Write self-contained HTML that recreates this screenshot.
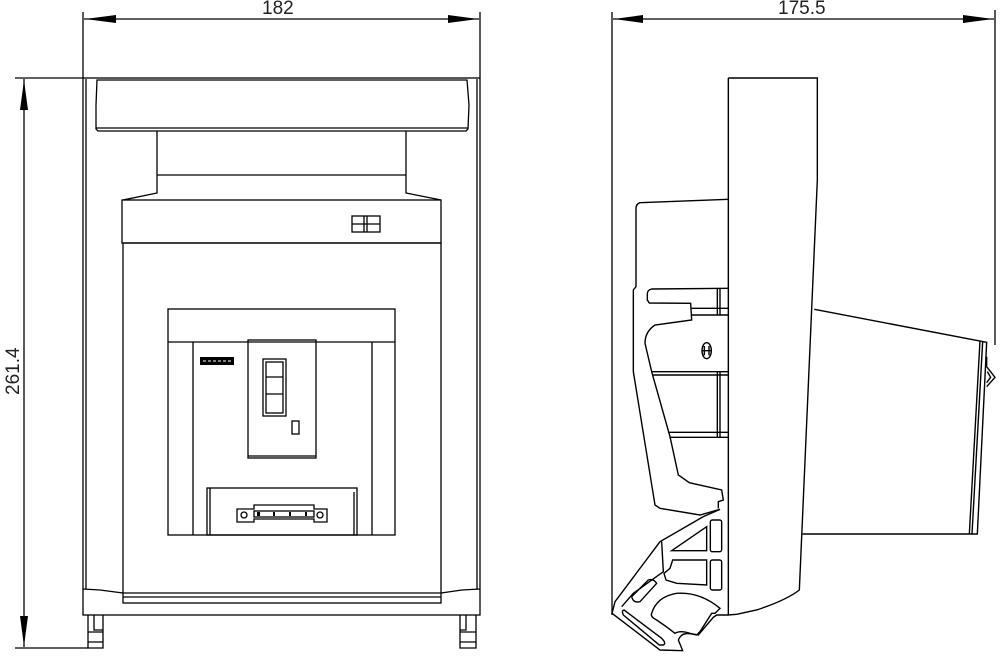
<!DOCTYPE html>
<html><head><meta charset="utf-8"><style>
html,body{margin:0;padding:0;background:#fff;}
svg{display:block;}
.l{fill:none;stroke:#000;stroke-width:1.3;}
.s{fill:none;stroke:#000;stroke-width:4.2;}
text{font-family:"Liberation Sans",sans-serif;font-size:19px;fill:#222;}
</style></head><body>
<svg width="1000" height="656" viewBox="0 0 1000 656" xmlns="http://www.w3.org/2000/svg">
<g class="l">
<line x1="83" y1="12" x2="83" y2="78"/><line x1="480" y1="12" x2="480" y2="78"/>
<line x1="84" y1="19" x2="479" y2="19"/>
<line x1="15" y1="78" x2="83" y2="78"/><line x1="15" y1="648" x2="88" y2="648"/>
<line x1="24" y1="79" x2="24" y2="647"/>
<line x1="612" y1="12" x2="612" y2="615"/><line x1="995" y1="10" x2="995" y2="345"/>
<line x1="613" y1="19" x2="994" y2="19"/>
</g>
<g fill="#000">
<polygon points="85,19 116,15 116,23"/><polygon points="478,19 448,15 448,23"/>
<polygon points="614,19 643,15 643,23"/><polygon points="993,19 963,15 963,23"/>
<polygon points="24,80 20,110 28,110"/><polygon points="24,646 20,616 28,616"/>
</g>
<text x="262" y="14">182</text>
<text x="778" y="14">175.5</text>
<text transform="translate(19,395) rotate(-90)">261.4</text>

<g class="l">
<rect x="83" y="78" width="397" height="537"/>
<line x1="86" y1="79" x2="86" y2="589"/><line x1="477" y1="79" x2="477" y2="589"/>
<path d="M97,80 L467,80 L469,105 L468,129 L466,131 L98,131 L96,129 L96,105 Z"/>
<line x1="96" y1="128" x2="468" y2="128"/>
<path d="M157,131 L157,193 L123,200 M406,131 L406,193 L441,200"/>
<line x1="157" y1="175" x2="406" y2="175"/>
<rect x="122" y="200" width="319" height="43"/>
<rect x="352" y="216" width="28" height="16"/>
<line x1="352" y1="224" x2="380" y2="224"/><line x1="364" y1="216" x2="364" y2="232"/><line x1="367" y1="216" x2="367" y2="232"/>
<rect x="123" y="243" width="318" height="360"/>
<line x1="123" y1="593" x2="441" y2="593"/><line x1="123" y1="597" x2="441" y2="597"/>
<path d="M83,589 L100,590 L123,593 M480,589 L462,590 L441,593"/>
<path d="M88,615 L88,648 L103,648 L103,615 M94,615 L94,630 L103,630 M88,632 L103,632 M88,642 L103,642"/>
<path d="M460,615 L460,648 L476,648 L476,615 M466,615 L466,630 L460,630 M460,632 L476,632 M460,642 L476,642"/>
<rect x="168" y="309" width="227" height="226"/>
<line x1="168" y1="342" x2="395" y2="342"/>
<line x1="193" y1="342" x2="193" y2="535"/><line x1="372" y1="342" x2="372" y2="535"/>
<rect x="248" y="340" width="68" height="118"/>
<line x1="248" y1="456" x2="316" y2="456"/>
<rect x="263" y="359" width="23" height="57"/>
<rect x="266" y="362" width="17" height="51"/>
<line x1="266" y1="377" x2="283" y2="377"/><line x1="266" y1="394" x2="283" y2="394"/>
<rect x="292" y="421" width="7" height="13"/>
<rect x="207" y="488" width="150" height="47"/>
<line x1="210" y1="488" x2="210" y2="535"/><line x1="354" y1="492" x2="354" y2="535"/>
<path d="M237,509 L254,509 L254,505 L314,505 L314,509 L327,509 L327,522 L314,522 L314,519 L254,519 L254,522 L237,522 Z"/>
<circle cx="244" cy="515" r="3"/><circle cx="320" cy="515" r="3"/>
<rect x="254" y="511" width="60" height="6"/>
</g>
<rect x="200" y="357" width="34" height="8" fill="#000"/>
<line x1="203" y1="361" x2="231" y2="361" stroke="#fff" stroke-width="1" stroke-dasharray="3,2"/>
<g fill="#000"><rect x="257" y="512" width="3" height="4"/><rect x="273" y="512" width="2" height="4"/><rect x="289" y="512" width="2" height="4"/><rect x="305" y="512" width="2" height="4"/></g>

<g transform="translate(600,180) scale(0.33333)" class="s">
<path d="M385,-306 L652,-306 L652,0 L598,1230 Q560,1260 470,1290 L410,1303 L385,1305 L385,-306"/>
<path d="M385,58 L120,68 Q108,72 108,85 L108,320 L100,330 L100,575 L165,975 L180,985 L300,1005 L360,988"/>
<path d="M385,325 L155,327 Q142,330 142,342 L142,360 L148,369 L272,370 L275,420 L165,435 Q135,455 135,490 L155,575 L210,770 L235,885 L268,908 L365,930 L370,960 L355,965 L355,985"/>
<path d="M275,385 L385,385 M275,405 L385,405 M155,575 L385,575 M158,585 L385,585 M205,757 L385,757 M208,772 L385,772"/>
<path d="M352,325 L352,405 M360,325 L360,405 M352,575 L352,772 M360,575 L360,772"/>
<ellipse cx="320" cy="512" rx="14" ry="24"/><line x1="313" y1="498" x2="313" y2="526"/><line x1="327" y1="498" x2="327" y2="526"/><line x1="306" y1="512" x2="334" y2="512"/>
<path d="M360,988 L310,1010 L180,1085 L45,1265 L36,1300 L180,1410 L248,1412 L235,1380 Q245,1355 275,1362 L295,1365 L340,1312 L350,1305 L385,1305"/>
<path d="M185,1085 L190,1175 L100,1240 L65,1280"/>
<path d="M215,1112 L320,1040 L320,1112 Z"/>
<rect x="331" y="1020" width="34" height="95" rx="6"/>
<path d="M218,1140 L320,1140 L320,1215 L230,1210 L198,1200 L192,1180 L210,1165 Z"/>
<rect x="331" y="1140" width="34" height="90" rx="6"/>
<path d="M95,1250 L145,1200 Q160,1195 170,1210 L120,1265 Q100,1270 95,1250 Z"/>
<path d="M72,1290 L185,1375 Q200,1390 190,1395 L178,1395 L70,1305 Q64,1292 72,1290 Z"/>
<path d="M155,1300 Q170,1250 230,1240 Q300,1235 360,1285 L345,1300 L335,1300 L300,1355 L290,1365 L270,1360 Q240,1350 225,1360 Q200,1340 170,1320 Q150,1310 155,1300 Z"/>
<path d="M643,388 L1160,487 L1132,1062 L608,1062"/>
<path d="M1140,482 L1108,1062 M1148,485 L1116,1062"/>
<path d="M1160,530 L1160,560 L1185,592 L1160,620 M1162,575 L1172,592 L1160,608"/>
</g>
</svg>
</body></html>
